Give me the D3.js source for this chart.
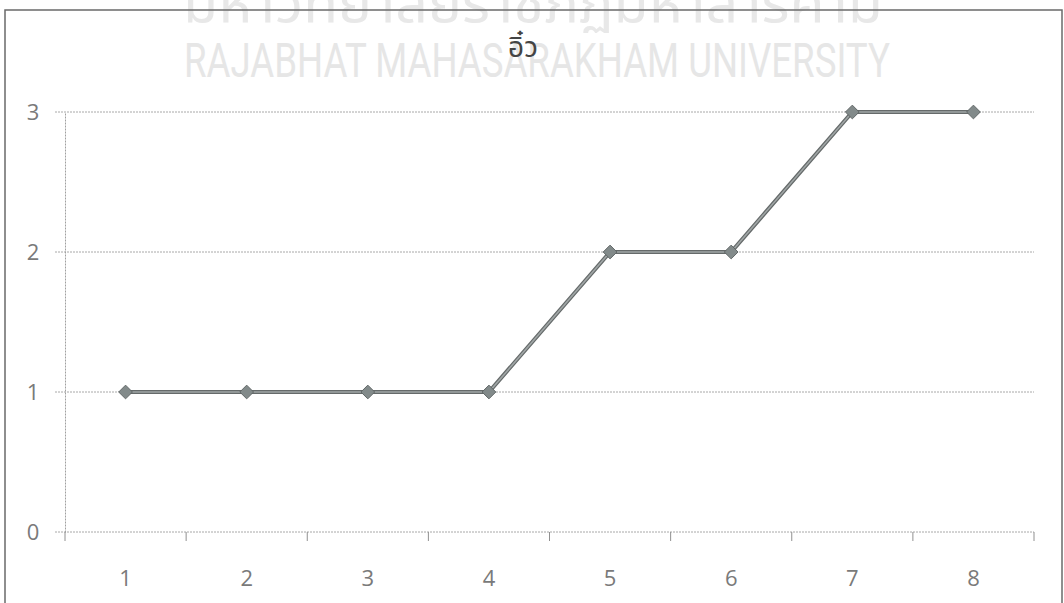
<!DOCTYPE html>
<html><head><meta charset="utf-8">
<script src="https://cdn.jsdelivr.net/npm/d3@7"></script>
<style>html,body{margin:0;padding:0;background:#fff;}svg{display:block;}</style>
</head><body>
<svg id="chart" width="1064" height="603"></svg>
<script>
const title = "อิ๋ว";
const categories = ["1","2","3","4","5","6","7","8"];
const values = [1,1,1,1,2,2,3,3];
const yTicks = [0,1,2,3];
const watermarkThai = "มหาวิทยาลัยราชภัฏมหาสารคาม";
const watermarkEng = "RAJABHAT MAHASARAKHAM UNIVERSITY";

const svg = d3.select("#chart");

// watermark
svg.append("text").attr("x",533).attr("y",22).attr("text-anchor","middle")
  .attr("font-family","Noto Sans Thai, Noto Sans, DejaVu Sans, sans-serif").attr("font-size",54)
  .attr("fill","#e8e8e8").attr("textLength",700).attr("lengthAdjust","spacingAndGlyphs").text(watermarkThai);
svg.append("text").attr("x",537).attr("y",77).attr("text-anchor","middle")
  .attr("font-family","Roboto, Liberation Sans, sans-serif").attr("font-size",48)
  .attr("fill","#e6e6e6").attr("textLength",706).attr("lengthAdjust","spacingAndGlyphs").text(watermarkEng);

// chart border
svg.append("rect").attr("x",5).attr("y",10).attr("width",1057).attr("height",620)
  .attr("fill","none").attr("stroke","#6a6a6a").attr("stroke-width",1.5);

const x = d3.scaleBand().domain(categories).range([65,1034]).padding(0);
const y = d3.scaleLinear().domain([0,3]).range([532,112]);

// gridlines
svg.append("g").selectAll("line").data(yTicks).join("line")
  .attr("x1",55).attr("x2",1034).attr("y1",d=>y(d)).attr("y2",d=>y(d))
  .attr("stroke","#a8a8a8").attr("stroke-width",1).attr("stroke-dasharray","2,1");

// y axis
const yAxis = svg.append("g").attr("transform","translate(65,0)")
  .call(d3.axisLeft(y).tickValues(yTicks).tickSize(0).tickPadding(0).tickFormat(d3.format("d")));
yAxis.select(".domain").attr("stroke","#a0a0a0").attr("stroke-dasharray","2,1");
yAxis.selectAll("text").attr("x",-32).attr("text-anchor","middle")
  .attr("font-family","Open Sans, Lato, sans-serif").attr("font-size",22).attr("fill","#7a7a7a");

// x axis
const xAxis = svg.append("g").attr("transform","translate(0,532)")
  .call(d3.axisBottom(x).tickSize(0).tickPadding(0));
xAxis.select(".domain").remove();
xAxis.selectAll("text").attr("y",54).attr("dy","0")
  .attr("font-family","Open Sans, Lato, sans-serif").attr("font-size",22).attr("fill","#7a7a7a");
// category boundary ticks
const bounds = categories.map(c=>x(c)).concat([x.range()[1]]);
svg.append("g").selectAll("line").data(bounds).join("line")
  .attr("x1",d=>d).attr("x2",d=>d).attr("y1",532).attr("y2",541)
  .attr("stroke","#909090").attr("stroke-width",1);

// title
svg.append("text").attr("x",523).attr("y",57).attr("text-anchor","middle")
  .attr("font-family","Noto Sans Thai, Noto Sans, DejaVu Sans, sans-serif").attr("font-size",28)
  .attr("fill","#444").text(title);

// line
const pts = categories.map((c,i)=>({c, v:values[i]}));
const line = d3.line().x(d=>x(d.c)+x.bandwidth()/2).y(d=>y(d.v));
svg.append("path").datum(pts).attr("d",line).attr("fill","none")
  .attr("stroke","#656a6a").attr("stroke-width",4);
svg.append("path").datum(pts).attr("d",line).attr("fill","none")
  .attr("stroke","#a0a6a6").attr("stroke-width",1.6);

// markers
svg.append("g").selectAll("path").data(pts).join("path")
  .attr("transform",d=>`translate(${x(d.c)+x.bandwidth()/2},${y(d.v)})`)
  .attr("d",d3.symbol(d3.symbolDiamond2,120)())
  .attr("fill","#828a8a").attr("stroke","#606666").attr("stroke-width",1);
</script>
</body></html>
